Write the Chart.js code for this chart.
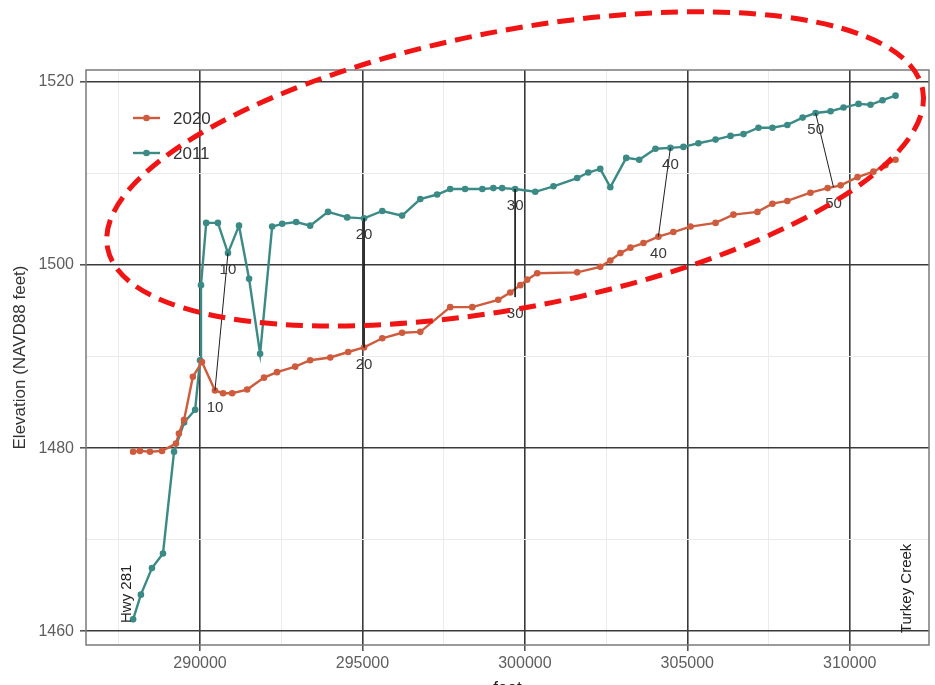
<!DOCTYPE html>
<html>
<head>
<meta charset="utf-8">
<script src="https://cdn.jsdelivr.net/npm/chart.js@4.4.0/dist/chart.umd.min.js"></script>
<style>
  html, body { margin: 0; padding: 0; background: #fff; }
  #wrap { width: 935px; height: 685px; }
</style>
</head>
<body>
<div id="wrap"><canvas id="profile" width="935" height="685"></canvas></div>
<script>
// Channel thalweg profile: distance along the survey line (ft) vs elevation (NAVD88 ft)

// 2011 survey
const dist2011 = [287940, 288180, 288520, 288860, 289200, 289510, 289850, 290000, 290030, 290190,
  290550, 290860, 291200, 291510, 291850, 292220, 292530, 292960, 293390, 293940,
  294530, 295050, 295610, 296220, 296780, 297300, 297700, 298160, 298690, 299030,
  299300, 299700, 300320, 300880, 301610, 301950, 302320, 302630, 303120, 303520,
  304020, 304480, 304880, 305340, 305870, 306330, 306730, 307190, 307620, 308080,
  308550, 308950, 309410, 309810, 310270, 310640, 311010, 311410];
const elev2011 = [1461.3, 1464.0, 1466.9, 1468.5, 1479.6, 1482.8, 1484.2, 1489.6, 1497.8, 1504.6,
  1504.6, 1501.3, 1504.3, 1498.5, 1490.3, 1504.2, 1504.5, 1504.7, 1504.3, 1505.8,
  1505.2, 1505.1, 1505.9, 1505.4, 1507.2, 1507.7, 1508.3, 1508.3, 1508.3, 1508.4,
  1508.4, 1508.3, 1508.0, 1508.6, 1509.5, 1510.1, 1510.5, 1508.5, 1511.7, 1511.5,
  1512.7, 1512.8, 1512.9, 1513.3, 1513.7, 1514.1, 1514.3, 1515.0, 1515.0, 1515.3,
  1516.1, 1516.6, 1516.8, 1517.2, 1517.6, 1517.5, 1518.0, 1518.5];

// 2020 survey
const dist2020 = [287940, 288150, 288460, 288830, 289260, 289350, 289510, 289780, 290060, 290460,
  290710, 290990, 291450, 291970, 292370, 292930, 293390, 294010, 294560, 295050,
  295610, 296220, 296780, 297700, 298380, 299180, 299550, 299860, 300070, 300380,
  301610, 302320, 302630, 302940, 303250, 303650, 304110, 304570, 305100, 305870,
  306420, 307160, 307620, 308080, 308790, 309320, 309720, 310240, 310730, 311100, 311410];
const elev2020 = [1479.6, 1479.7, 1479.6, 1479.7, 1480.5, 1481.6, 1483.1, 1487.8, 1489.4, 1486.3,
  1486.0, 1486.0, 1486.4, 1487.7, 1488.3, 1488.9, 1489.6, 1489.9, 1490.5, 1491.0,
  1492.0, 1492.6, 1492.7, 1495.4, 1495.4, 1496.2, 1497.0, 1497.8, 1498.4, 1499.1,
  1499.2, 1499.8, 1500.5, 1501.3, 1501.9, 1502.4, 1503.1, 1503.6, 1504.2, 1504.6,
  1505.5, 1505.8, 1506.7, 1507.0, 1507.9, 1508.4, 1508.7, 1509.6, 1510.2, 1510.9, 1511.5];

// Matching stations between the two surveys
const stationLabels = ['10', '20', '30', '40', '50'];
const stationDist2011 = [290860, 295050, 299700, 304480, 308950];
const stationElev2011 = [1501.3, 1505.1, 1508.3, 1512.8, 1516.6];
const stationDist2020 = [290460, 295050, 299700, 304110, 309500];
const stationElev2020 = [1486.3, 1491.0, 1496.5, 1503.1, 1508.5];

// Landmarks along the reach
const landmarkNames = ['Hwy 281', 'Turkey Creek'];
const landmarkDist = [287750, 311750];
const landmarkElev = [1460.9, 1459.8];

const seriesNames = ['2020', '2011'];
const seriesColors = ['#cf5b3d', '#3b8a85'];

// Axis ticks (major ones carry a label, minor ones only a light grid line)
const distTicks = [287500, 290000, 292500, 295000, 297500, 300000, 302500, 305000, 307500, 310000];
const distTickLabels = ['', '290000', '', '295000', '', '300000', '', '305000', '', '310000'];
const elevTicks = [1460, 1470, 1480, 1490, 1500, 1510, 1520];
const elevTickLabels = ['1460', '', '1480', '', '1500', '', '1520'];

// Axis extents
const distMin = 286490, distMax = 312440;
const elevMin = 1458.5, elevMax = 1521.3;

// Highlight ring around the upper reach (data units + tilt)
const ring = { dist: 299700, elev: 1510.5, halfDist: 12780, halfElev: 15.1, tiltDeg: -11,
  color: '#f01414', width: 5, dash: [17, 9] };

const FONT = "'Liberation Sans', Arial, Helvetica, sans-serif";
const MAJOR = '#3a3a3a', MINOR = '#ebebeb', TICKCOL = '#5e5e5e';

const toXY = (xs, ys) => xs.map((x, i) => ({ x: x, y: ys[i] }));

const stationSets = stationLabels.map((lab, i) => ({
  label: 'Station ' + lab,
  stationLabel: lab,
  data: [{ x: stationDist2011[i], y: stationElev2011[i] }, { x: stationDist2020[i], y: stationElev2020[i] }],
  borderColor: '#1e1e1e',
  borderWidth: 1,
  pointRadius: 0,
  pointHoverRadius: 0,
  fill: false
}));

const seriesSets = [
  { label: seriesNames[0], data: toXY(dist2020, elev2020) },
  { label: seriesNames[1], data: toXY(dist2011, elev2011) }
].map((d, i) => Object.assign(d, {
  borderColor: seriesColors[i],
  backgroundColor: seriesColors[i],
  borderWidth: 2.4,
  pointRadius: 3.3,
  pointHoverRadius: 3.3,
  pointBorderWidth: 0,
  tension: 0,
  fill: false,
  isSeries: true
}));

const panelBorder = {
  id: 'panelBorder',
  beforeDatasetsDraw(chart) {
    const { ctx, chartArea: a } = chart;
    ctx.save();
    ctx.strokeStyle = '#7a7a7a';
    ctx.lineWidth = 1.5;
    ctx.strokeRect(a.left, a.top, a.right - a.left, a.bottom - a.top);
    ctx.restore();
  }
};

const stationText = {
  id: 'stationText',
  afterDatasetsDraw(chart) {
    const { ctx } = chart;
    ctx.save();
    ctx.font = '15px ' + FONT;
    ctx.fillStyle = '#383838';
    ctx.textAlign = 'center';
    ctx.textBaseline = 'middle';
    chart.data.datasets.forEach((ds, i) => {
      if (!ds.stationLabel) return;
      chart.getDatasetMeta(i).data.forEach(pt => {
        ctx.fillText(ds.stationLabel, pt.x, pt.y + 17);
      });
    });
    // landmark names, written upward from their anchor
    const xs = chart.scales.x, ys = chart.scales.y;
    ctx.font = '15px ' + FONT;
    ctx.fillStyle = '#222';
    ctx.textAlign = 'left';
    landmarkNames.forEach((name, i) => {
      ctx.save();
      ctx.translate(xs.getPixelForValue(landmarkDist[i]), ys.getPixelForValue(landmarkElev[i]));
      ctx.rotate(-Math.PI / 2);
      ctx.fillText(name, 0, 0);
      ctx.restore();
    });
    ctx.restore();
  }
};

const insetLegend = {
  id: 'insetLegend',
  afterDraw(chart) {
    const { ctx, chartArea: a } = chart;
    ctx.save();
    ctx.font = '17px ' + FONT;
    ctx.textBaseline = 'middle';
    ctx.textAlign = 'left';
    chart.data.datasets.filter(d => d.isSeries).forEach((ds, i) => {
      const y = a.top + 48 + i * 35;
      const x0 = a.left + 47;
      ctx.strokeStyle = ds.borderColor;
      ctx.lineWidth = 2.4;
      ctx.beginPath();
      ctx.moveTo(x0, y);
      ctx.lineTo(x0 + 27, y);
      ctx.stroke();
      ctx.fillStyle = ds.borderColor;
      ctx.beginPath();
      ctx.arc(x0 + 13.5, y, 3.3, 0, Math.PI * 2);
      ctx.fill();
      ctx.fillStyle = '#333';
      ctx.fillText(ds.label, x0 + 40, y + 1);
    });
    ctx.restore();
  }
};

const highlightRing = {
  id: 'highlightRing',
  afterDraw(chart) {
    const { ctx } = chart;
    const xs = chart.scales.x, ys = chart.scales.y;
    const cx = xs.getPixelForValue(ring.dist);
    const cy = ys.getPixelForValue(ring.elev);
    const rx = Math.abs(xs.getPixelForValue(ring.dist + ring.halfDist) - cx);
    const ry = Math.abs(ys.getPixelForValue(ring.elev - ring.halfElev) - cy);
    ctx.save();
    ctx.strokeStyle = ring.color;
    ctx.lineWidth = ring.width;
    ctx.setLineDash(ring.dash);
    ctx.beginPath();
    ctx.ellipse(cx, cy, rx, ry, ring.tiltDeg * Math.PI / 180, 0, Math.PI * 2);
    ctx.stroke();
    ctx.restore();
  }
};

function axisGrid(values, labels) {
  const major = c => {
    const t = c.tick;
    if (!t) return false;
    const k = values.indexOf(t.value);
    return k >= 0 && labels[k] !== '';
  };
  return {
    color: c => major(c) ? MAJOR : MINOR,
    lineWidth: c => major(c) ? 1.6 : 1,
    tickColor: c => major(c) ? '#555' : 'rgba(0,0,0,0)',
    tickLength: 6
  };
}

new Chart(document.getElementById('profile'), {
  type: 'line',
  data: { datasets: stationSets.concat(seriesSets) },
  options: {
    responsive: false,
    animation: false,
    devicePixelRatio: 1,
    layout: { padding: { top: 70, right: 6, bottom: 0, left: 0 } },
    plugins: { legend: { display: false }, tooltip: { enabled: false } },
    scales: {
      x: {
        type: 'linear',
        min: distMin,
        max: distMax,
        afterBuildTicks(s) { s.ticks = distTicks.map(v => ({ value: v })); },
        afterFit(s) { s.height = 40; },
        border: { display: false },
        grid: axisGrid(distTicks, distTickLabels),
        ticks: {
          autoSkip: false,
          maxRotation: 0,
          padding: 3,
          color: TICKCOL,
          font: { family: FONT, size: 16 },
          callback: (v, i) => distTickLabels[distTicks.indexOf(v)] || ''
        },
        title: {
          display: true,
          text: 'feet',
          color: '#222',
          font: { family: FONT, size: 17 },
          padding: { top: 0, bottom: -14 }
        }
      },
      y: {
        type: 'linear',
        min: elevMin,
        max: elevMax,
        afterBuildTicks(s) { s.ticks = elevTicks.map(v => ({ value: v })); },
        afterFit(s) { s.width = 86; },
        border: { display: false },
        grid: axisGrid(elevTicks, elevTickLabels),
        ticks: {
          autoSkip: false,
          padding: 6,
          color: TICKCOL,
          font: { family: FONT, size: 16 },
          callback: (v, i) => elevTickLabels[elevTicks.indexOf(v)] || ''
        },
        title: {
          display: true,
          text: 'Elevation (NAVD88 feet)',
          color: '#333',
          font: { family: FONT, size: 17 },
          padding: { top: 10, bottom: 0 }
        }
      }
    }
  },
  plugins: [panelBorder, stationText, insetLegend, highlightRing]
});
</script>
</body>
</html>
